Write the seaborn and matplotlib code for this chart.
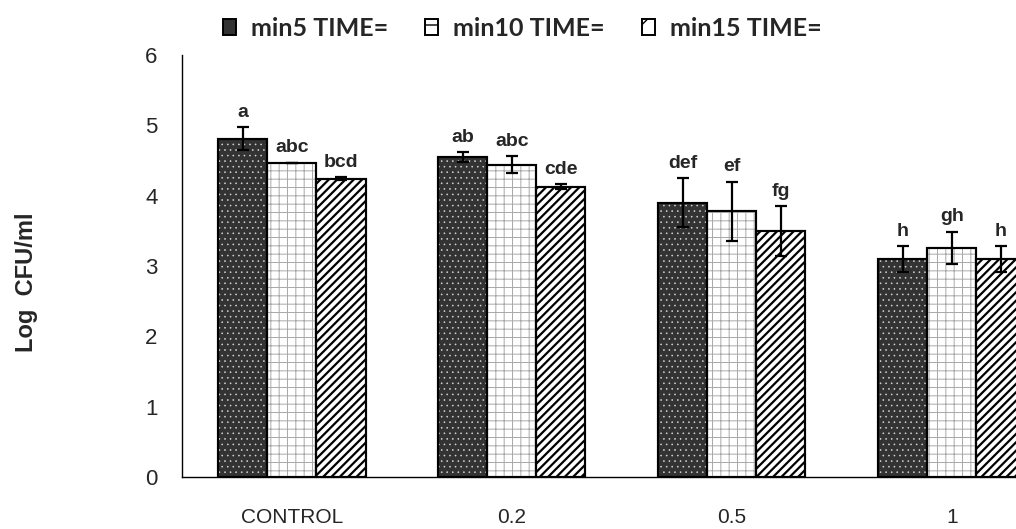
import numpy as np
import pandas as pd
import matplotlib
matplotlib.use("Agg")
import matplotlib.pyplot as plt
import matplotlib.patches as mpatches
import seaborn as sns

conc = ["CONTROL", "0.2", "0.5", "1"]
times = ["min5 TIME=", "min10 TIME=", "min15 TIME="]
log_cfu_5 = [4.81, 4.55, 3.90, 3.10]
log_cfu_10 = [4.47, 4.44, 3.78, 3.26]
log_cfu_15 = [4.24, 4.13, 3.50, 3.10]
err_5 = [0.16, 0.07, 0.35, 0.18]
err_10 = [0.00, 0.12, 0.42, 0.23]
err_15 = [0.02, 0.03, 0.35, 0.18]
letters_5 = ["a", "ab", "def", "h"]
letters_10 = ["abc", "abc", "ef", "gh"]
letters_15 = ["bcd", "cde", "fg", "h"]

df = pd.DataFrame({
    "conc": conc * 3,
    "time": np.repeat(times, len(conc)),
    "logcfu": log_cfu_5 + log_cfu_10 + log_cfu_15,
})
errs = [err_5, err_10, err_15]
letters = [letters_5, letters_10, letters_15]

sns.set_style("white")
plt.rcParams["font.family"] = ["Liberation Sans", "DejaVu Sans"]

fills = ["#333333", "white", "white"]
hatches = ["...", "++", "////"]
hatch_cols = ["#d8d8d8", "#a8a8a8", "black"]
hatch_lws = [0.4, 0.7, 1.6]


def add_hatch(ax, bar, hatch, hc, hlw):
    # hatch drawn as a separate overlay so the outline stays black
    ov = mpatches.Rectangle((bar.get_x(), bar.get_y()), bar.get_width(), bar.get_height(),
                            fill=False, edgecolor=hc, linewidth=0, hatch=hatch, zorder=bar.get_zorder() + 0.1)
    if hasattr(ov, "set_hatch_linewidth"):
        ov.set_hatch_linewidth(hlw)
    ax.add_patch(ov)
    edge = mpatches.Rectangle((bar.get_x(), bar.get_y()), bar.get_width(), bar.get_height(),
                              fill=False, edgecolor="black", linewidth=1.5, zorder=bar.get_zorder() + 0.2)
    ax.add_patch(edge)


fig = plt.figure(figsize=(10.16, 5.29), dpi=100)
ax = fig.add_axes([0.179, 0.098, 0.866, 0.798])

sns.barplot(data=df, x="conc", y="logcfu", hue="time", order=conc, hue_order=times,
            palette=fills, saturation=1, width=0.67, edgecolor="black", linewidth=1.5,
            errorbar=None, ax=ax)
if ax.get_legend() is not None:
    ax.get_legend().remove()

bar_groups = list(ax.containers)
for i, cont in enumerate(bar_groups):
    cx = []
    for bar in cont:
        add_hatch(ax, bar, hatches[i], hatch_cols[i], hatch_lws[i])
        cx.append(bar.get_x() + bar.get_width() / 2)
    vals = [b.get_height() for b in cont]
    ax.errorbar(cx, vals, yerr=errs[i], fmt="none", ecolor="black", elinewidth=1.6,
                capsize=4, capthick=1.6, zorder=6)
    for x, v, e, lab in zip(cx, vals, errs[i], letters[i]):
        ax.text(x, v + e + 0.09, lab, ha="center", va="bottom", fontsize=14, fontweight="bold")

ax.set_xlim(-0.5, 3.5)
ax.set_ylim(0, 6)
ax.set_yticks(range(7))
ax.set_xticks([-0.5, 0.5, 1.5, 2.5, 3.5])
ax.set_xticklabels([])
ax.set_xticks(range(len(conc)), minor=True)
ax.set_xticklabels(conc, minor=True)
ax.tick_params(axis="x", which="major", length=7, width=1, direction="out", color="black")
ax.tick_params(axis="x", which="minor", length=0, pad=22, labelsize=15)
ax.tick_params(axis="y", length=6.5, width=1, direction="out", pad=11, labelsize=16, color="black")
ax.set_xlabel("")
ax.set_ylabel("")
for s in ["top", "right"]:
    ax.spines[s].set_visible(False)
for s in ["left", "bottom"]:
    ax.spines[s].set_color("black")
    ax.spines[s].set_linewidth(1)

fig.text(0.026, 0.467, "Log  CFU/ml", rotation=90, ha="center", va="center",
         fontsize=17, fontweight="bold")

handles = []
for i in range(3):
    h = mpatches.Patch(facecolor=fills[i], edgecolor="black", linewidth=1.4, hatch=hatches[i][0] if i else None)
    handles.append(h)
fig.legend(handles, times, loc="center", bbox_to_anchor=(0.514, 0.947), ncol=3, frameon=False,
           prop={"family": "Lato", "weight": "bold", "size": 18}, handlelength=0.5, handleheight=0.6,
           handletextpad=0.6, columnspacing=1.5, borderpad=0.2)

fig.savefig("out.png", dpi=100)
